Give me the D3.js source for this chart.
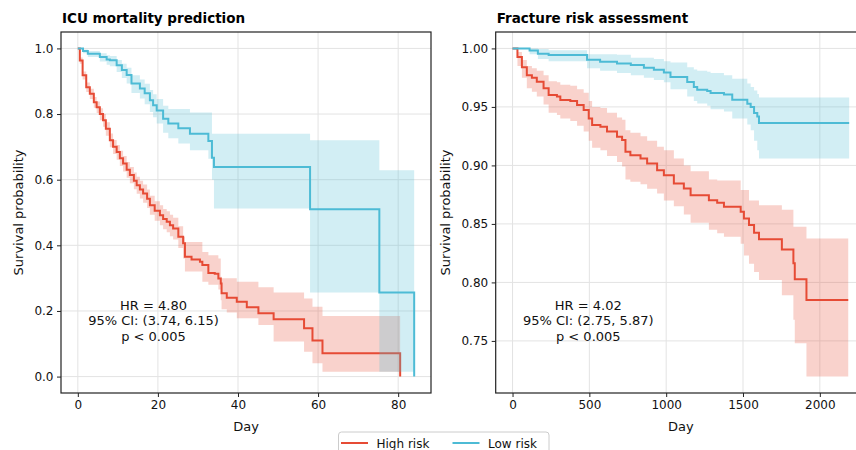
<!DOCTYPE html>
<html>
<head>
<meta charset="utf-8">
<script src="https://cdn.jsdelivr.net/npm/d3@7"></script>
<style>
  body { margin: 0; background: #fff; }
  svg { display: block; font-family: "DejaVu Sans", sans-serif; }
</style>
</head>
<body>
<svg id="chart" width="856" height="450"></svg>
<script>
// ---- data (Kaplan-Meier steps + 95% CI) ----
const groups = ["High risk", "Low risk"];
const colors = ["#E64B35", "#4DBBD5"];

// ICU mortality prediction, high risk
const icuHighT  = [0,0.5,1.2,2.1,3.0,4.0,4.7,5.5,6.3,7.0,8.0,8.8,9.7,10.5,11.3,12.2,13.0,14.0,14.7,15.5,16.3,17.3,18.0,19.2,20.5,21.3,22.2,23.0,23.8,25.1,26.3,26.75,28.4,30.5,31.1,32.6,34.2,35.1,35.7,35.9,37.2,39.7,42.2,45.1,48.9,56.5,58.6,61.1,80.5];
const icuHighS  = [1,.963,.918,.882,.862,.836,.821,.800,.781,.755,.720,.700,.684,.665,.649,.630,.614,.597,.583,.570,.558,.542,.522,.505,.492,.480,.472,.461,.451,.426,.406,.365,.357,.350,.340,.316,.313,.299,.284,.254,.240,.228,.211,.193,.175,.147,.110,.071,0];
const icuHighLo = [1,.953,.905,.867,.846,.819,.803,.781,.761,.734,.699,.678,.661,.642,.625,.606,.589,.571,.557,.543,.530,.514,.493,.475,.461,.449,.440,.428,.418,.392,.360,.320,.320,.320,.289,.280,.280,.265,.233,.205,.195,.178,.178,.157,.107,.076,.041,.015,0];
const icuHighHi = [1,.972,.930,.896,.877,.852,.838,.818,.800,.775,.741,.721,.706,.688,.672,.654,.639,.622,.609,.597,.585,.570,.551,.534,.522,.511,.504,.493,.484,.458,.426,.410,.410,.410,.380,.370,.370,.360,.304,.300,.300,.289,.289,.272,.256,.238,.213,.185,0];

// ICU mortality prediction, low risk
const icuLowT  = [0,1.3,2.5,5.5,7.2,8.0,9.7,11.0,12.2,13.4,15.5,16.7,18.0,18.8,19.7,21.3,22.6,25.1,28.0,32.6,33.5,34.0,58.0,75.3,84.0];
const icuLowS  = [1,.992,.984,.974,.966,.964,.949,.934,.919,.893,.878,.863,.842,.827,.811,.786,.771,.757,.740,.718,.667,.639,.510,.256,0];
const icuLowLo = [1,.985,.974,.960,.950,.946,.928,.910,.893,.864,.847,.830,.806,.790,.771,.743,.726,.710,.690,.664,.600,.512,.256,.015,0];
const icuLowHi = [1,.997,.992,.985,.979,.977,.965,.953,.941,.918,.905,.892,.873,.860,.846,.825,.815,.815,.805,.805,.740,.740,.720,.629,0];

// Fracture risk assessment, high risk
const frHighT  = [0,32,61,93,126,158,202,235,289,311,376,420,463,496,518,572,615,680,713,735,767,833,876,941,985,1050,1115,1159,1278,1332,1376,1485,1506,1539,1572,1604,1753,1828,1837,1913,2185];
const frHighS  = [1,.9926,.984,.977,.975,.9716,.966,.9602,.9588,.956,.9551,.9517,.9474,.940,.9346,.9331,.9289,.9246,.9218,.9116,.9087,.9058,.9016,.8959,.8916,.8845,.8802,.8746,.8703,.868,.8646,.8604,.8547,.849,.8424,.8368,.8282,.8163,.8026,.785,.785];
const frHighLo = [1,.985,.975,.966,.963,.959,.952,.945,.943,.940,.938,.934,.929,.921,.915,.913,.908,.903,.899,.888,.886,.884,.880,.876,.870,.865,.858,.851,.845,.842,.839,.833,.823,.816,.809,.802,.789,.768,.748,.7195,.7195];
const frHighHi = [1,.997,.990,.985,.983,.981,.977,.972,.971,.969,.968,.965,.962,.955,.950,.949,.945,.941,.939,.930,.928,.925,.921,.916,.913,.906,.900,.895,.888,.887,.887,.879,.879,.870,.870,.866,.862,.8475,.8475,.8376,.8376];

// Fracture risk assessment, low risk
const frLowT  = [0,111,165,235,485,570,680,770,855,920,985,1028,1137,1180,1202,1267,1289,1376,1430,1528,1550,1572,1593,1604,2191];
const frLowS  = [1,.9983,.9955,.9943,.9903,.9886,.9872,.9858,.9835,.9818,.9795,.9755,.9713,.967,.9647,.9636,.9619,.9605,.9562,.9528,.9499,.9448,.9417,.9363,.9363];
const frLowLo = [1,.995,.991,.989,.983,.981,.979,.977,.975,.973,.971,.965,.959,.955,.953,.951,.948,.946,.940,.935,.930,.921,.913,.9059,.9059];
const frLowHi = [1,1,.9995,.9985,.995,.995,.9945,.992,.992,.991,.989,.988,.984,.982,.981,.980,.979,.977,.974,.970,.967,.964,.961,.958,.958];

const icuTicksX = [0, 20, 40, 60, 80];
const icuTicksY = [0, 0.2, 0.4, 0.6, 0.8, 1.0];
const frTicksX  = [0, 500, 1000, 1500, 2000];
const frTicksY  = [0.75, 0.80, 0.85, 0.90, 0.95, 1.00];
const icuStats = ["HR = 4.80", "95% CI: (3.74, 6.15)", "p < 0.005"];
const frStats  = ["HR = 4.02", "95% CI: (2.75, 5.87)", "p < 0.005"];

const svg = d3.select("#chart");

function drawPanel(cfg) {
    var top = 32, bottom = 393;
    var curves = cfg.curves;

    // matplotlib-like 5% margins round the data
    var allT = d3.merge(curves.map(c => c.t));
    var allY = d3.merge(curves.map(c => c.lo.concat(c.hi, c.s)));
    var tx = d3.extent(allT), ty = d3.extent(allY);
    var px = (tx[1] - tx[0]) * 0.05, py = (ty[1] - ty[0]) * 0.05;
    var x = d3.scaleLinear().domain([tx[0] - px, tx[1] + px]).range([cfg.left, cfg.right]);
    var y = d3.scaleLinear().domain([ty[0] - py, ty[1] + py]).range([bottom, top]);

    var g = svg.append("g");

    // grid
    g.append("g").selectAll("line").data(cfg.ticksX).join("line")
        .attr("x1", d => x(d)).attr("x2", d => x(d))
        .attr("y1", top).attr("y2", bottom)
        .attr("stroke", "#e3e3e3").attr("stroke-width", 1);
    g.append("g").selectAll("line").data(cfg.ticksY).join("line")
        .attr("x1", cfg.left).attr("x2", cfg.right)
        .attr("y1", d => y(d)).attr("y2", d => y(d))
        .attr("stroke", "#e3e3e3").attr("stroke-width", 1);

    // bands then lines, group by group
    curves.forEach(function(c) {
        var idx = d3.range(c.t.length);
        var band = d3.area().curve(d3.curveStepAfter)
            .x(i => x(c.t[i])).y0(i => y(c.lo[i])).y1(i => y(c.hi[i]));
        var line = d3.line().curve(d3.curveStepAfter)
            .x(i => x(c.t[i])).y(i => y(c.s[i]));
        g.append("path").attr("d", band(idx))
            .attr("fill", c.color).attr("fill-opacity", 0.25).attr("stroke", "none");
        g.append("path").attr("d", line(idx))
            .attr("fill", "none").attr("stroke", c.color).attr("stroke-width", 2);
    });

    // axes
    var xAxis = d3.axisBottom(x).tickValues(cfg.ticksX).tickSize(4).tickPadding(3.5)
        .tickFormat(d3.format("d"));
    var yAxis = d3.axisLeft(y).tickValues(cfg.ticksY).tickSize(4).tickPadding(3.5)
        .tickFormat(d3.format(cfg.yFormat));
    var gx = g.append("g").attr("transform", "translate(0," + bottom + ")").call(xAxis);
    var gy = g.append("g").attr("transform", "translate(" + cfg.left + ",0)").call(yAxis);
    [gx, gy].forEach(function(a) {
        a.select(".domain").remove();
        a.selectAll("line").attr("stroke", "#222").attr("stroke-width", 1);
        a.selectAll("text").attr("fill", "#111").attr("font-size", 12)
            .attr("font-family", "DejaVu Sans");
    });

    // spines
    g.append("rect").attr("x", cfg.left).attr("y", top)
        .attr("width", cfg.right - cfg.left).attr("height", bottom - top)
        .attr("fill", "none").attr("stroke", "#222").attr("stroke-width", 1.2);

    // title and labels
    g.append("text").attr("x", cfg.left + 1).attr("y", 23)
        .attr("font-size", 13.5).attr("font-weight", "bold").attr("fill", "#000")
        .text(cfg.title);
    g.append("text").attr("x", (cfg.left + cfg.right) / 2).attr("y", 431)
        .attr("text-anchor", "middle").attr("font-size", 13).attr("fill", "#111")
        .text("Day");
    g.append("text")
        .attr("transform", "translate(" + cfg.ylabelX + "," + (top + bottom) / 2 + ") rotate(-90)")
        .attr("text-anchor", "middle").attr("font-size", 13).attr("fill", "#111")
        .text("Survival probability");

    // hazard ratio box
    var ax = cfg.left + 0.25 * (cfg.right - cfg.left);
    var ay = bottom - 0.2 * (bottom - top);
    g.append("g").selectAll("text").data(cfg.stats).join("text")
        .attr("x", ax).attr("y", (d, i) => ay + 4.5 + (i - 1) * 15.6)
        .attr("text-anchor", "middle").attr("font-size", 13).attr("fill", "#111")
        .text(d => d);
}

drawPanel({
    left: 61, right: 431, title: "ICU mortality prediction",
    ticksX: icuTicksX, ticksY: icuTicksY, yFormat: ".1f", ylabelX: 23,
    stats: icuStats,
    curves: [
        {t: icuHighT, s: icuHighS, lo: icuHighLo, hi: icuHighHi, color: colors[0]},
        {t: icuLowT,  s: icuLowS,  lo: icuLowLo,  hi: icuLowHi,  color: colors[1]}
    ]
});

drawPanel({
    left: 495.7, right: 866, title: "Fracture risk assessment",
    ticksX: frTicksX, ticksY: frTicksY, yFormat: ".2f", ylabelX: 450,
    stats: frStats,
    curves: [
        {t: frHighT, s: frHighS, lo: frHighLo, hi: frHighHi, color: colors[0]},
        {t: frLowT,  s: frLowS,  lo: frLowLo,  hi: frLowHi,  color: colors[1]}
    ]
});

// figure legend, bottom centre (cut by the canvas edge as in the original)
var leg = svg.append("g");
leg.append("rect").attr("x", 338.5).attr("y", 432).attr("width", 210.5).attr("height", 30)
    .attr("rx", 3).attr("fill", "#fff").attr("stroke", "#cccccc").attr("stroke-width", 1);
var item = leg.selectAll("g.item").data(groups).join("g")
    .attr("transform", (d, i) => "translate(" + (341 + i * 111.5) + ",0)");
item.append("line").attr("x1", 0).attr("x2", 27).attr("y1", 443).attr("y2", 443)
    .attr("stroke", (d, i) => colors[i]).attr("stroke-width", 2);
item.append("text").attr("x", 35.5).attr("y", 447.5)
    .attr("font-size", 12).attr("fill", "#111").text(d => d);
</script>
</body>
</html>
